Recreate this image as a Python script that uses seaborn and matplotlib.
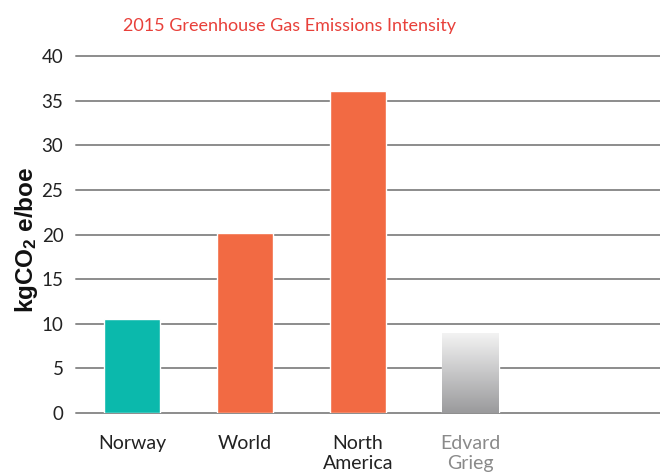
import numpy as np
import pandas as pd
import matplotlib
matplotlib.use("Agg")
import matplotlib.pyplot as plt
import seaborn as sns
from matplotlib.colors import LinearSegmentedColormap

categories = ["Norway", "World", "North\nAmerica", "Edvard\nGrieg"]
values = [10.5, 20.2, 36.1, 9.0]
bar_colors = ["#0bb9ac", "#f26a43", "#f26a43", "#cccccc"]
label_colors = ["#222222", "#222222", "#222222", "#8a8a8a"]
yticks = [0, 5, 10, 15, 20, 25, 30, 35, 40]
title = "2015 Greenhouse Gas Emissions Intensity"

sns.set_theme(style="white")
plt.rcParams["font.family"] = ["Lato", "DejaVu Sans"]
plt.rcParams["mathtext.default"] = "regular"

df = pd.DataFrame({"cat": categories, "val": values})

fig = plt.figure(figsize=(6.6, 4.75), dpi=100)
ax = fig.add_axes([0.115, 0.1305, 0.885, 0.7516])

sns.barplot(data=df, x="cat", y="val", hue="cat", palette=bar_colors,
            legend=False, width=0.5, ax=ax, edgecolor="white", linewidth=1,
            saturation=1, zorder=3)

# gradient for Edvard Grieg bar
patch = ax.patches[3]
x0, y0 = patch.get_x(), patch.get_y()
w, h = patch.get_width(), patch.get_height()
patch.set_facecolor("none")
cmap = LinearSegmentedColormap.from_list("g", ["#f4f4f4", "#9a9a9c"])
grad = np.linspace(0, 1, 256).reshape(-1, 1)
im = ax.imshow(grad, extent=[x0, x0 + w, y0, y0 + h], origin="upper",
               cmap=cmap, aspect="auto", zorder=3)
im.set_clip_path(patch)

ax.set_xlim(-0.5, 4.68)
ax.set_ylim(0, 40)
ax.set_yticks(yticks)
ax.set_yticklabels([str(t) for t in yticks], fontsize=13.5, color="#222222")
ax.yaxis.grid(True, color="#8c8c8c", linewidth=1.4, zorder=0)
for gl in ax.get_ygridlines():
    gl.set_clip_on(False)
ax.set_axisbelow(True)
for s in ax.spines.values():
    s.set_visible(False)
ax.tick_params(axis="both", length=0)
ax.tick_params(axis="y", pad=9)
ax.tick_params(axis="x", pad=16)
ax.set_xticks(range(len(categories)))
ax.set_xticklabels(categories, fontsize=14, linespacing=1.22)
for lbl, c in zip(ax.get_xticklabels(), label_colors):
    lbl.set_color(c)
    lbl.set_verticalalignment("top")
ax.set_xlabel("")
ax.set_ylabel("kgCO$_2$ e/boe", fontsize=17.5, fontweight="bold",
              color="#111111", family=["Liberation Sans", "DejaVu Sans"])
ax.yaxis.set_label_coords(-0.062, 0.485)

fig.text(0.438, 0.945, title, ha="center", va="center", fontsize=13,
         color="#e8403a")

fig.savefig("out.png", dpi=100)
